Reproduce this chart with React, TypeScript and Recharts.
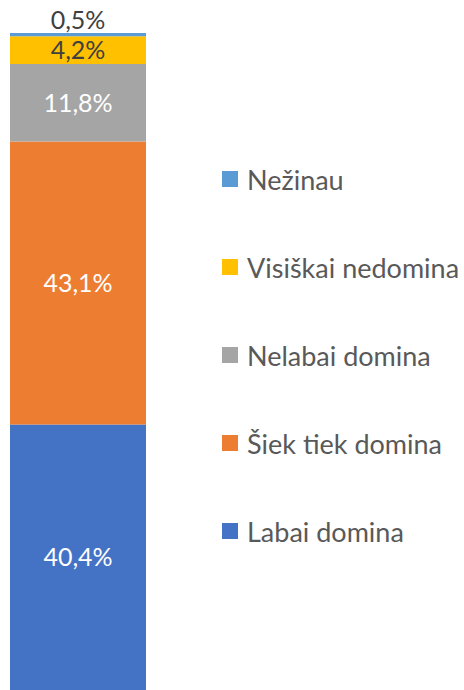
import { BarChart, Bar, XAxis, YAxis, LabelList } from "recharts";

const categories = ["Visi"];
const seriesNames = ["Labai domina", "Šiek tiek domina", "Nelabai domina", "Visiškai nedomina", "Nežinau"];
const seriesKeys = ["labai", "siek", "nelabai", "visiskai", "nezinau"];
const seriesValues = [40.4, 43.1, 11.8, 4.2, 0.5];
const seriesColors = ["#4472C4", "#ED7D31", "#A5A5A5", "#FFC000", "#5B9BD5"];
const labelColors = ["#FFFFFF", "#FFFFFF", "#FFFFFF", "#404040", "#404040"];

const data = categories.map((name) => {
  const row: Record<string, string | number> = { name };
  seriesKeys.forEach((k, i) => {
    row[k] = seriesValues[i];
  });
  return row;
});

const fmt = (v: unknown) => `${Number(v).toFixed(1).replace(".", ",")}%`;
const FONT = "Lato, 'Open Sans', sans-serif";

// legend sits to the right of the bar, top item first
function ChartLegend() {
  const order = [4, 3, 2, 1, 0];
  return (
    <div style={{ position: "absolute", left: 222, top: 135, fontFamily: FONT }}>
      {order.map((i) => (
        <div
          key={seriesKeys[i]}
          style={{ display: "flex", alignItems: "center", height: 88 }}
        >
          <span
            style={{
              display: "inline-block",
              width: 16,
              height: 16,
              backgroundColor: seriesColors[i],
              marginRight: 9,
            }}
          />
          <span style={{ fontSize: 27, color: "#595959", whiteSpace: "nowrap" }}>
            {seriesNames[i]}
          </span>
        </div>
      ))}
    </div>
  );
}

export default function App() {
  return (
    <div style={{ position: "absolute", left: 0, top: 0, width: 464, height: 690, background: "#fff" }}>
      <BarChart
        width={464}
        height={690}
        data={data}
        margin={{ top: 33, right: 318, bottom: 0, left: 10 }}
        barCategoryGap={0}
        barGap={0}
      >
        <XAxis dataKey="name" hide />
        <YAxis hide domain={[0, 100]} />
        {seriesKeys.map((k, i) => (
          <Bar
            key={k}
            dataKey={k}
            stackId="a"
            fill={seriesColors[i]}
            isAnimationActive={false}
          >
            <LabelList
              dataKey={k}
              position={i === 4 ? "top" : "center"}
              offset={i === 4 ? 4 : 5}
              formatter={fmt}
              fill={labelColors[i]}
              style={{ fontSize: 25, fontFamily: FONT }}
            />
          </Bar>
        ))}
      </BarChart>
      <ChartLegend />
    </div>
  );
}
